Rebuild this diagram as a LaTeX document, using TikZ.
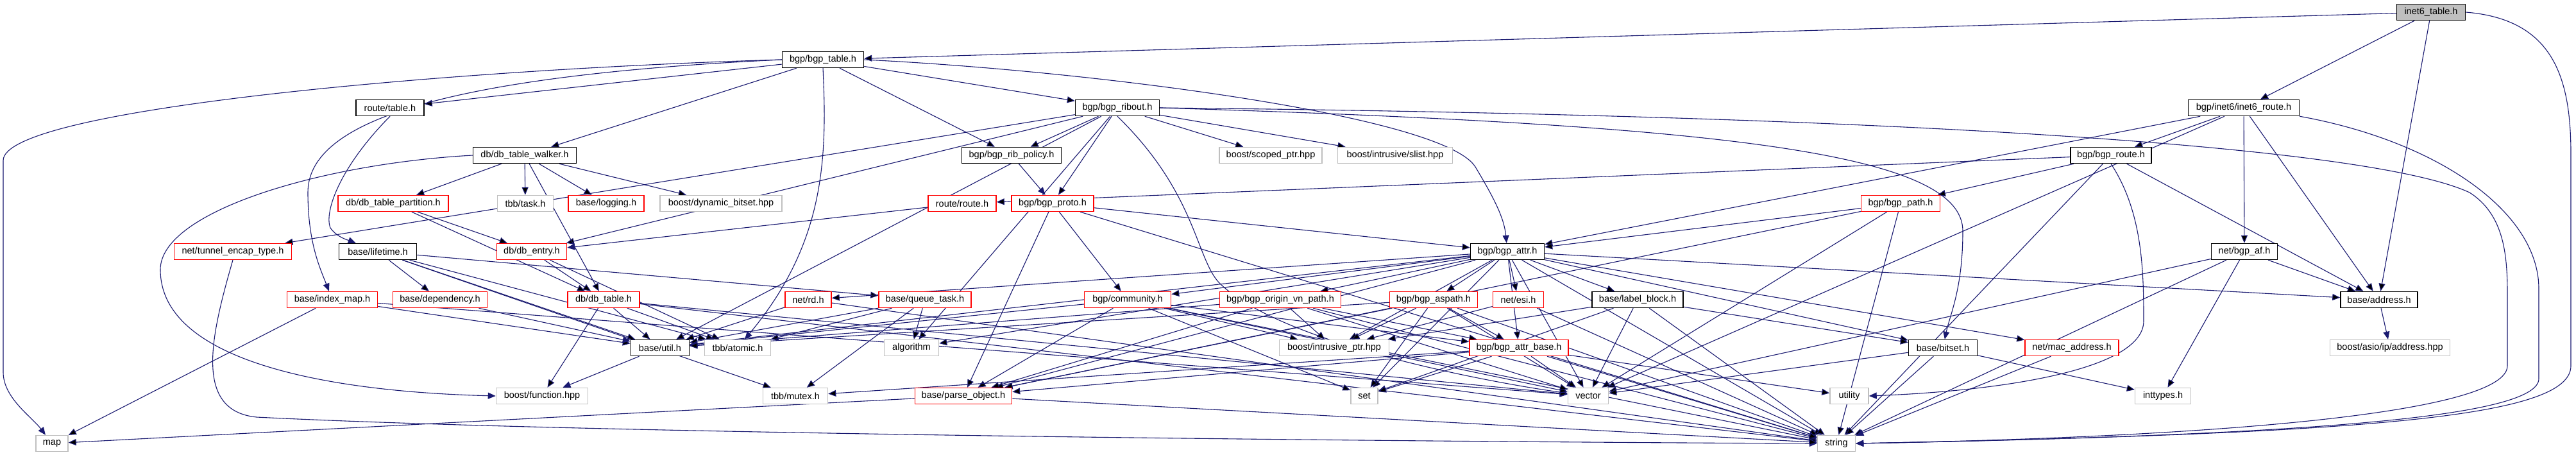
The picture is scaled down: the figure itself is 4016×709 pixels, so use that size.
\documentclass[tikz,border=0pt]{standalone}
\usepackage{fontspec}
\setmainfont{Liberation Sans}
\usepackage{tikz}
\usetikzlibrary{arrows.meta,backgrounds}

\definecolor{depblue}{HTML}{191970}
\definecolor{sysgray}{HTML}{BFBFBF}
\definecolor{redline}{HTML}{FF0000}

\begin{document}
\begin{tikzpicture}[x=1pt, y=-1pt,
    hdr/.style={draw=black, line width=1.5pt, fill=white, minimum height=25pt, inner sep=1pt, font=\fontsize{14.5}{17}\selectfont},
    hdrred/.style={hdr, draw=redline},
    hdrsys/.style={hdr, draw=sysgray},
    hdrroot/.style={hdr, fill=sysgray},
    dep/.style={draw=depblue, line width=1.1pt, -{Triangle[length=12pt, width=10pt]}}]

    \useasboundingbox (0,0) rectangle (4016,709);

    % Root file
    \node[hdrroot, minimum width=107pt] (root) at (3790,19) {inet6\_table.h};

    % Level 1 and 2
    \node[hdr, minimum width=127pt] (bgptable) at (1283,93) {bgp/bgp\_table.h};
    \node[hdr, minimum width=106pt] (rtable) at (608,168) {route/table.h};
    \node[hdr, minimum width=131pt] (ribout) at (1742,168) {bgp/bgp\_ribout.h};
    \node[hdr, minimum width=173pt] (i6route) at (3498,168) {bgp/inet6/inet6\_route.h};

    % Level 3
    \node[hdr, minimum width=161pt] (walker) at (818,242) {db/db\_table\_walker.h};
    \node[hdr, minimum width=155pt] (ribpolicy) at (1577,242) {bgp/bgp\_rib\_policy.h};
    \node[hdrsys, minimum width=160pt] (scopedptr) at (1981,242) {boost/scoped\_ptr.hpp};
    \node[hdrsys, minimum width=179pt] (slist) at (2175,242) {boost/intrusive/slist.hpp};
    \node[hdr, minimum width=126pt] (bgproute) at (3291,242) {bgp/bgp\_route.h};

    % Level 4
    \node[hdrred, minimum width=172pt] (partition) at (613,317) {db/db\_table\_partition.h};
    \node[hdrsys, minimum width=87pt] (task) at (819,317) {tbb/task.h};
    \node[hdrred, minimum width=118pt] (logging) at (945,317) {base/logging.h};
    \node[hdrsys, minimum width=190pt] (dynbitset) at (1124,317) {boost/dynamic\_bitset.hpp};
    \node[hdrred, minimum width=106pt] (rroute) at (1500,317) {route/route.h};
    \node[hdrred, minimum width=128pt] (proto) at (1641,317) {bgp/bgp\_proto.h};
    \node[hdrred, minimum width=123pt] (bgppath) at (2963,317) {bgp/bgp\_path.h};

    % Level 5
    \node[hdrred, minimum width=183pt] (tunnel) at (363,392) {net/tunnel\_encap\_type.h};
    \node[hdr, minimum width=121pt] (lifetime) at (589,392) {base/lifetime.h};
    \node[hdrred, minimum width=109pt] (dbentry) at (829,392) {db/db\_entry.h};
    \node[hdr, minimum width=115pt] (attr) at (2350,392) {bgp/bgp\_attr.h};
    \node[hdr, minimum width=103pt] (bgpaf) at (3499,392) {net/bgp\_af.h};

    % Level 6
    \node[hdrred, minimum width=141pt] (indexmap) at (518,467) {base/index\_map.h};
    \node[hdrred, minimum width=147pt] (dependency) at (686,467) {base/dependency.h};
    \node[hdrred, minimum width=112pt] (dbtable) at (941,467) {db/db\_table.h};
    \node[hdrred, minimum width=72pt] (rd) at (1260,467) {net/rd.h};
    \node[hdrred, minimum width=144pt] (queuetask) at (1442,467) {base/queue\_task.h};
    \node[hdrred, minimum width=135pt] (community) at (1758,467) {bgp/community.h};
    \node[hdrred, minimum width=189pt] (originvn) at (1996,467) {bgp/bgp\_origin\_vn\_path.h};
    \node[hdrred, minimum width=137pt] (aspath) at (2235,467) {bgp/bgp\_aspath.h};
    \node[hdrred, minimum width=79pt] (esi) at (2367,467) {net/esi.h};
    \node[hdr, minimum width=142pt] (labelblock) at (2553,467) {base/label\_block.h};
    \node[hdr, minimum width=120pt] (address) at (3709,467) {base/address.h};

    % Level 7
    \node[hdr, minimum width=91pt] (util) at (1029,542) {base/util.h};
    \node[hdrsys, minimum width=103pt] (atomic) at (1150,542) {tbb/atomic.h};
    \node[hdrsys, minimum width=85pt] (algorithm) at (1421,542) {algorithm};
    \node[hdrsys, minimum width=171pt] (intrptr) at (2080,542) {boost/intrusive\_ptr.hpp};
    \node[hdrred, minimum width=154pt] (attrbase) at (2368,542) {bgp/bgp\_attr\_base.h};
    \node[hdr, minimum width=107pt] (bitset) at (3029,542) {base/bitset.h};
    \node[hdrred, minimum width=146pt] (mac) at (3230,542) {net/mac\_address.h};
    \node[hdrsys, minimum width=187pt] (asioaddr) at (3726,542) {boost/asio/ip/address.hpp};

    % Level 8
    \node[hdrsys, minimum width=143pt] (function) at (845,617) {boost/function.hpp};
    \node[hdrsys, minimum width=101pt] (mutex) at (1240,617) {tbb/mutex.h};
    \node[hdrred, minimum width=151pt] (parseobj) at (1502,617) {base/parse\_object.h};
    \node[hdrsys, minimum width=42pt] (set) at (2127,617) {set};
    \node[hdrsys, minimum width=63pt] (vector) at (2476,617) {vector};
    \node[hdrsys, minimum width=60pt] (utility) at (2883,617) {utility};
    \node[hdrsys, minimum width=87pt] (inttypes) at (3372,617) {inttypes.h};

    % Level 9
    \node[hdrsys, minimum width=50pt] (map) at (81,691) {map};
    \node[hdrsys, minimum width=59pt] (string) at (2863,691) {string};

    \begin{pgfonlayer}{background}
    % inet6_table.h
    \draw[dep] (root) edge (bgptable) edge (i6route) edge (address);
    \draw[dep] (root.east) .. controls (3980,30) and (4008,120) .. (4008,240) -- (4008,570) .. controls (4008,650) and (3700,675) .. (string.east);

    % bgp/bgp_table.h
    \draw[dep] (bgptable) edge (rtable) edge (walker) edge (ribout) edge (ribpolicy);
    \draw[dep] (bgptable.west) .. controls (700,108) and (5,170) .. (5,250) -- (5,580) .. controls (5,620) and (50,650) .. (map);
    \draw[dep] (bgptable.west) .. controls (650,120) and (480,200) .. (480,300) .. controls (480,380) and (500,420) .. (indexmap);
    \draw[dep] (bgptable.south) .. controls (1290,250) and (1285,380) .. (atomic);
    \draw[dep] (bgptable.east) .. controls (1700,110) and (2250,180) .. (2300,260) .. controls (2330,310) and (2345,340) .. (attr);

    % route/table.h
    \draw[dep] (rtable.south) .. controls (530,260) and (505,330) .. (515,355) .. controls (525,370) and (545,375) .. (lifetime);

    % bgp/bgp_ribout.h
    \draw[dep] (ribout) edge (tunnel) edge (dbentry) edge (util) edge (ribpolicy) edge (proto)
        edge (algorithm) edge (scopedptr) edge (slist);
    \draw[dep] (ribout.south) .. controls (1864,300) and (1864,400) .. (1900,440) .. controls (2000,540) and (2350,600) .. (vector);
    \draw[dep] (ribout.east) .. controls (2700,195) and (3060,240) .. (3060,360) .. controls (3060,450) and (3040,490) .. (bitset);
    \draw[dep] (ribout.east) .. controls (3000,180) and (3700,230) .. (3850,300) .. controls (3905,335) and (3909,400) .. (3909,460) -- (3909,570) .. controls (3909,640) and (3500,680) .. (string.east);

    % bgp/inet6/inet6_route.h
    \draw[dep] (i6route) edge (bgproute) edge (attr) edge (bgpaf) edge (address) edge (vector);
    \draw[dep] (i6route.south east) .. controls (3800,220) and (3958,330) .. (3958,450) -- (3958,590) .. controls (3958,650) and (3600,678) .. (string.east);

    % db/db_table_walker.h
    \draw[dep] (walker) edge (partition) edge (task) edge (logging) edge (dynbitset) edge (dbtable);
    \draw[dep] (walker.west) .. controls (500,255) and (250,330) .. (250,420) .. controls (250,560) and (500,610) .. (function.west);

    % bgp/bgp_rib_policy.h, bgp/bgp_route.h
    \draw[dep] (ribpolicy) -- (proto);
    \draw[dep] (bgproute) edge (rroute) edge (bgppath) edge (address) edge (string);
    \draw[dep] (bgproute.south) .. controls (3340,330) and (3342,420) .. (3342,500) .. controls (3342,580) and (3100,610) .. (utility.east);

    % db/db_table_partition.h, route/route.h, bgp/bgp_proto.h, bgp/bgp_path.h
    \draw[dep] (partition) edge (dbentry) edge (dbtable);
    \draw[dep] (rroute) -- (dbentry);
    \draw[dep] (proto) edge (parseobj) edge (community) edge (attr) edge (string);
    \draw[dep] (bgppath) edge (attr) edge (parseobj) edge (vector) edge (string);

    % net/tunnel_encap_type.h
    \draw[dep] (tunnel.south) .. controls (330,520) and (300,640) .. (400,650) .. controls (1000,680) and (2500,690) .. (string.west);

    % base/lifetime.h, db/db_entry.h
    \draw[dep] (lifetime) edge (dependency) edge (queuetask) edge (util) edge (atomic) edge (mutex);
    \draw[dep] (dbentry) edge (dbtable) edge (atomic);

    % bgp/bgp_attr.h
    \draw[dep] (attr) edge (rd) edge (community) edge (originvn) edge (aspath) edge (esi) edge (labelblock)
        edge (address) edge (mac) edge (bitset) edge (attrbase) edge (intrptr) edge (util)
        edge (algorithm) edge (parseobj) edge (set) edge (vector) edge (string);

    % net/bgp_af.h
    \draw[dep] (bgpaf) edge (address) edge (inttypes) edge (vector) edge (string);

    % Level 6 headers
    \draw[dep] (indexmap) edge (map) edge (util) edge (vector);
    \draw[dep] (dependency) -- (util);
    \draw[dep] (dbtable) edge (util) edge (atomic) edge (function) edge (vector) edge (string);
    \draw[dep] (rd) edge (util) edge (string);
    \draw[dep] (queuetask) edge (util) edge (atomic) edge (algorithm) edge (mutex);
    \draw[dep] (community) edge (util) edge (parseobj) edge (intrptr) edge (attrbase) edge (set) edge (vector) edge (string);
    \draw[dep] (originvn) edge (util) edge (parseobj) edge (intrptr) edge (attrbase) edge (vector) edge (string);
    \draw[dep] (aspath) edge (util) edge (intrptr) edge (attrbase) edge (parseobj) edge (set) edge (vector) edge (string);
    \draw[dep] (esi) edge (intrptr) edge (string);
    \draw[dep] (labelblock) edge (intrptr) edge (set) edge (vector) edge (bitset) edge (string);
    \draw[dep] (address) -- (asioaddr);

    % Level 7 headers
    \draw[dep] (util) -- (function);
    \draw[dep] (attrbase) edge (mutex) edge (parseobj) edge (set) edge (vector) edge (string) edge (utility);
    \draw[dep] (bitset) edge (vector) edge (string) edge (inttypes);
    \draw[dep] (mac) -- (string);
    \draw[dep] (parseobj) edge (map) edge (string);
    \end{pgfonlayer}

\end{tikzpicture}
\end{document}
